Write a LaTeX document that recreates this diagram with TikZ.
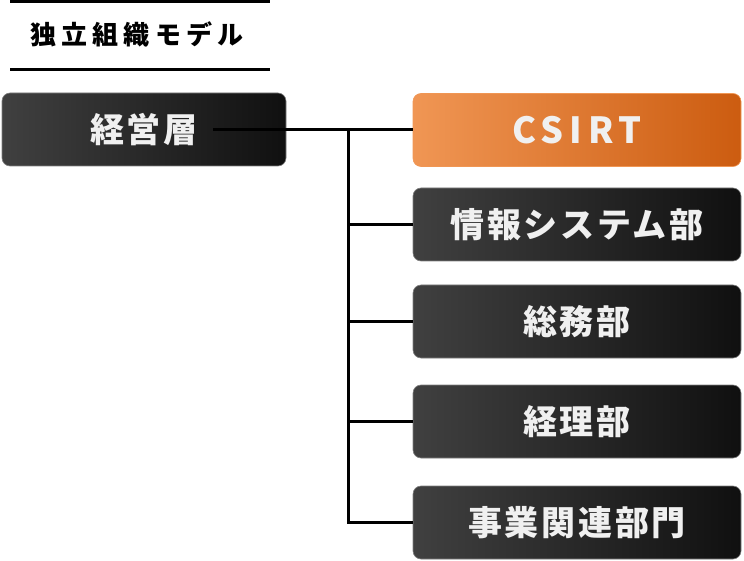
\documentclass[tikz,border=0pt]{standalone}
\usepackage{fontspec}
\newfontfamily\jpfont{Noto Sans CJK JP}[LetterSpace=8]
\newfontfamily\jplatinfont{Noto Sans CJK JP}[LetterSpace=16]
\newfontfamily\jptitlefont{Noto Sans CJK JP}[LetterSpace=20]
\definecolor{csirtlight}{RGB}{240,150,84}
\definecolor{csirtdark}{RGB}{204,92,16}
\definecolor{unitlight}{RGB}{64,64,64}
\definecolor{unitdark}{RGB}{16,16,16}
\tikzstyle{unit}=[rectangle,rounded corners=8pt,minimum height=73pt,inner sep=0pt,left color=unitlight,right color=unitdark,draw=black!50,line width=0.6pt,text=white!94!black,font=\jpfont\bfseries\fontsize{34pt}{34pt}\selectfont]
\tikzstyle{head unit}=[unit,minimum width=284pt]
\tikzstyle{dept unit}=[unit,minimum width=328pt]
\tikzstyle{csirt unit}=[dept unit,left color=csirtlight,right color=csirtdark,draw=csirtlight,font=\jplatinfont\bfseries\fontsize{36pt}{36pt}\selectfont]
\tikzstyle{edge}=[draw,line width=3pt,-]
\tikzstyle{rule}=[draw,line width=3pt,-]

\begin{document}
\begin{tikzpicture}[x=1pt,y=-1pt]
    \useasboundingbox (0,0) rectangle (744,561);
    % title between two rules
    \path[rule] (10,1.5) -- (270,1.5);
    \path[rule] (10,70) -- (270,70);
    \node[font=\jptitlefont\bfseries\fontsize{26pt}{26pt}\selectfont] (title) at (137,34) {独立組織モデル};

    \node[head unit] (mgmt) at (144,129.5) {経営層};
    \node[csirt unit] (csirt) at (577,130) {CSIRT};
    \foreach \pos/\name/\label in {{(577,224.5)/info/情報システム部}, {(577,321.5)/general/総務部},
                                   {(577,421.5)/account/経理部}, {(577,522.5)/business/事業関連部門}}
        \node[dept unit] (\name) at \pos {\label};

    \coordinate (mgmt-out) at (213,130);
    \coordinate (trunk) at (348,130);
    \path[edge] (mgmt-out) -- (csirt.west);
    \foreach \dest in {info,general,account,business}
        \path[edge] (trunk) |- (\dest.west);
\end{tikzpicture}
\end{document}
